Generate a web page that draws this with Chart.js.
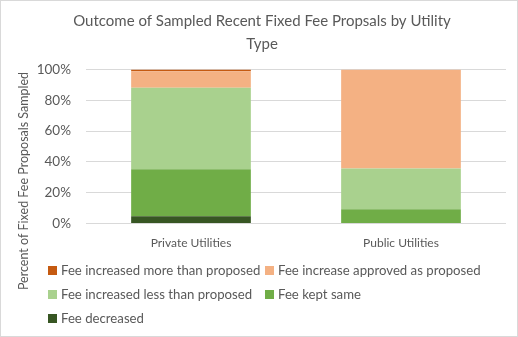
<!DOCTYPE html>
<html>
<head>
<meta charset="utf-8">
<script src="https://cdn.jsdelivr.net/npm/chart.js@4"></script>
<style>
  html, body { margin: 0; padding: 0; background: #fff; }
  #wrap { position: relative; width: 516px; height: 335px; border: 1px solid #d9d9d9; font-family: Lato, "Open Sans", sans-serif; }
  #chart { position: absolute; left: 0; top: 0; }
  #legend { position: absolute; left: 47px; top: 261px; display: grid; grid-template-columns: 217px 230px; row-gap: 8px; color: #595959; font-size: 13.2px; }
  #legend div { display: flex; align-items: center; height: 16px; white-space: nowrap; }
  #legend span.sw { display: inline-block; width: 9px; height: 9px; margin-right: 4px; }
</style>
</head>
<body>
<div id="wrap">
  <canvas id="chart" width="516" height="335"></canvas>
  <div id="legend"></div>
</div>
<script>
// Share of sampled proposals (%)
const categories = ['Private Utilities', 'Public Utilities'];
const feeDecreased = [4.7, 0];
const feeKeptSame = [30.6, 9.3];
const feeIncreasedLess = [52.9, 26.4];
const feeApproved = [10.6, 64.3];
const feeIncreasedMore = [1.2, 0];

const seriesNames = [
  'Fee decreased',
  'Fee kept same',
  'Fee increased less than proposed',
  'Fee increase approved as proposed',
  'Fee increased more than proposed',
];
const seriesColors = ['#375623', '#70ad47', '#a9d18e', '#f4b183', '#c55a11'];
const seriesData = [feeDecreased, feeKeptSame, feeIncreasedLess, feeApproved, feeIncreasedMore];
const yTitle = 'Percent of Fixed Fee Proposals Sampled';

const grey = '#595959';
const font = 'Lato, "Open Sans", sans-serif';

// Excel centres the value-axis title on plot + legend, so it is drawn here
const yTitlePlugin = {
  id: 'yTitle',
  afterDraw(ch) {
    const ctx = ch.ctx;
    ctx.save();
    ctx.translate(23, 180);
    ctx.rotate(-Math.PI / 2);
    ctx.font = '12.5px ' + font;
    ctx.fillStyle = grey;
    ctx.textAlign = 'center';
    ctx.textBaseline = 'middle';
    ctx.fillText(yTitle, 0, 0);
    ctx.restore();
  },
};

const chart = new Chart(document.getElementById('chart'), {
  type: 'bar',
  data: {
    labels: categories,
    datasets: seriesData.map((d, i) => ({
      label: seriesNames[i],
      data: d,
      backgroundColor: seriesColors[i],
      barPercentage: 0.57,
      categoryPercentage: 1,
    })),
  },
  options: {
    responsive: false,
    animation: false,
    layout: { padding: { left: 17, right: 11, top: 4, bottom: 82 } },
    plugins: {
      legend: { display: false },
      tooltip: { enabled: false },
      title: {
        display: true,
        text: ['Outcome of Sampled Recent Fixed Fee Propsals by Utility', 'Type'],
        color: grey,
        font: { family: font, size: 15, weight: 'normal', lineHeight: 1.5 },
        padding: { top: 5, bottom: 14.5 },
      },
    },
    scales: {
      x: {
        stacked: true,
        grid: { display: false },
        border: { display: false },
        ticks: { color: grey, font: { family: font, size: 12 }, padding: 4 },
      },
      y: {
        stacked: true,
        min: 0,
        max: 100,
        afterFit: (scale) => { scale.width = 68; },
        ticks: { stepSize: 20, color: grey, font: { family: font, size: 13.5 }, padding: 15, callback: (v) => v + '%' },
        grid: { color: '#d9d9d9', drawTicks: false },
        border: { display: false },
      },
    },
  },
  plugins: [yTitlePlugin],
});

// legend, reversed like the original (top series first)
const legendEl = document.getElementById('legend');
seriesNames.slice().reverse().forEach((name, i) => {
  const idx = seriesNames.length - 1 - i;
  const item = document.createElement('div');
  item.innerHTML = '<span class="sw" style="background:' + seriesColors[idx] + '"></span>' + name;
  legendEl.appendChild(item);
});
</script>
</body>
</html>
